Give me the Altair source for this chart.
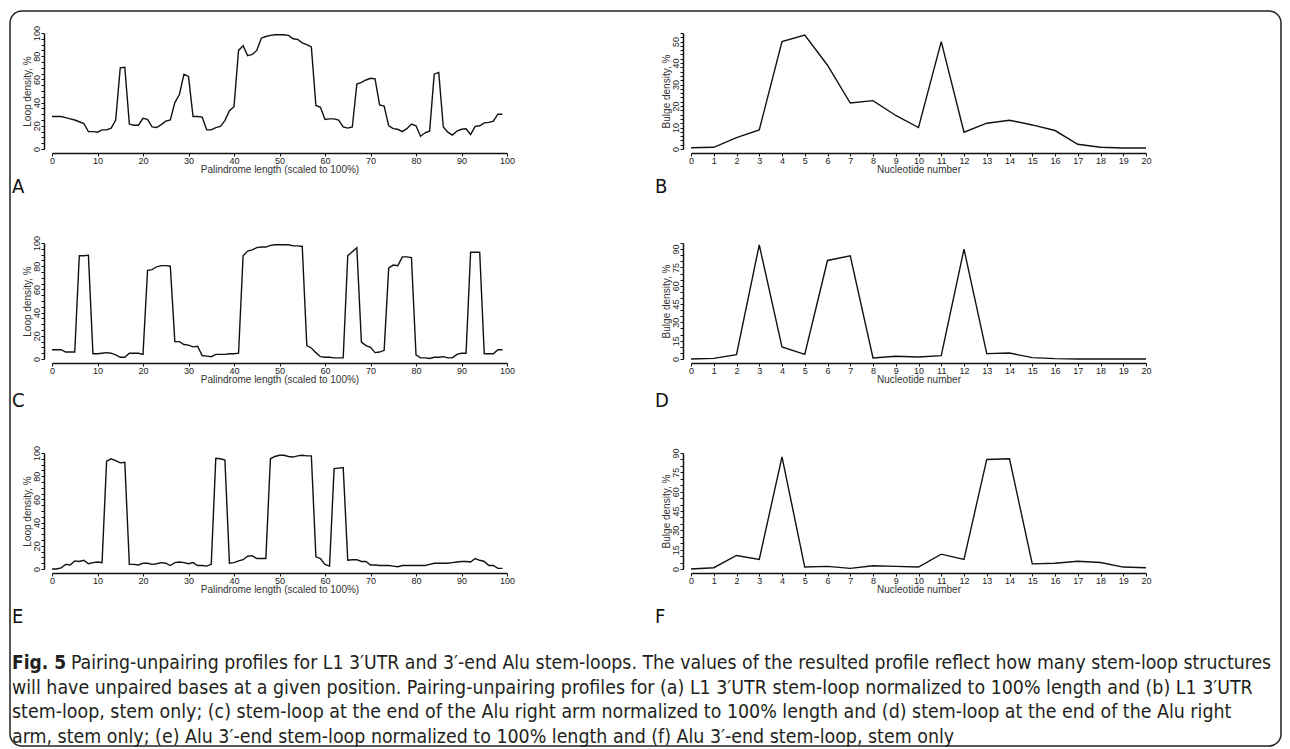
import altair as alt
import pandas as pd

# ---------------- data ----------------
pos100 = list(range(100))
pos20 = list(range(21))

loop_a = [28, 28, 28, 27, 26, 25, 23.5, 22, 15, 15,
          14.5, 16.5, 16.5, 18, 25, 70, 70.5, 21.5, 20.5, 20.5,
          26.5, 25.5, 19, 18.5, 21, 24, 25, 40, 47, 64.5,
          62.5, 28, 28, 27.5, 16.5, 16.5, 18.5, 19.5, 24.5, 33,
          36.5, 85, 89, 80.5, 81.5, 85, 95.5, 97, 98, 98.5,
          98.5, 98.5, 98, 95, 94.5, 91.5, 90, 88, 37.5, 36,
          25.5, 26, 26, 25, 19, 18, 19, 56, 57.5, 59.5,
          61, 60.5, 38, 37, 20, 17.5, 17, 15, 17.5, 21.5,
          20, 11, 14, 15.5, 64.5, 66, 19, 14.5, 12, 15.5,
          17, 17.5, 12.5, 19.5, 20, 22.5, 23, 24, 30, 30]

bulge_b = [0.6, 0.8, 5.3, 8.9, 50, 53, 39, 21.4, 22.5, 15.6, 10,
           50, 7.8, 12, 13.4, 11.2, 8.6, 2.2, 0.8, 0.5, 0.5]

loop_c = [8, 8, 8, 6, 6, 6, 89, 89, 89.5, 4.5,
          4.5, 5, 5.5, 5, 3.5, 1.5, 1.5, 5, 5, 5,
          4, 76.5, 77, 79.5, 80.5, 80.5, 80, 15, 15, 12.5,
          12, 10.5, 11, 3, 2.5, 2, 4, 4, 4, 4.5,
          4.5, 5, 89, 93, 94, 96, 96.5, 96.5, 98, 98.5,
          98.5, 98.5, 98.5, 97.5, 97.5, 97, 11.5, 9.5, 5.5, 2,
          1.5, 1.5, 1, 1, 1, 89, 92.5, 96, 14.5, 11.5,
          10, 5.5, 6, 7.5, 78.5, 81, 80.5, 88, 88, 87.5,
          3.5, 1, 1, 0.5, 1.5, 1.5, 2, 1, 1, 4,
          5, 5, 92, 92, 92, 4.5, 4.5, 4.5, 8, 8]

bulge_d = [0, 0.5, 3.5, 93.5, 9.8, 3.8, 80.7, 84.5, 0.8, 2.2, 1.6,
           2.7, 90, 4.4, 4.9, 1.1, 0.3, 0, 0, 0, 0]

loop_e = [0, 0, 1, 4, 3.5, 7, 6.5, 7.5, 4.5, 5.5,
          6, 5.5, 93, 95, 93.5, 91.5, 92, 4, 4, 3.5,
          5, 5, 4, 4.5, 5.5, 5, 3, 5.5, 6, 5.5,
          4.5, 5.5, 3, 3, 2.5, 4, 95.5, 95, 94, 5,
          5.5, 7, 8, 11, 11.5, 9, 9, 9, 95, 97,
          98, 98, 97, 96.5, 97.5, 98, 97.5, 97.5, 10.5, 9,
          4, 2.5, 86.5, 87, 87.5, 7.5, 8, 8, 6.5, 6.5,
          3.5, 3.5, 3, 3, 3, 2.5, 2, 3, 3, 3,
          3, 3, 3, 4, 5, 5, 5, 5, 5.5, 6,
          6.5, 6.5, 6, 9, 7.5, 6.5, 3, 3, 0.5, 0.5]

bulge_f = [0, 1, 10.5, 7.5, 87, 1.5, 2, 0.5, 2.5, 2, 1.5,
           11.5, 7.5, 85, 85.5, 4, 4.5, 6, 5, 1.5, 1]

panel_letters = ["A", "B", "C", "D", "E", "F"]
x_title_loop = "Palindrome length (scaled to 100%)"
x_title_nuc = "Nucleotide number"
y_title_loop = "Loop density, %"
y_title_bulge = "Bulge density, %"

caption_bold = "Fig. 5"
caption_first = ("Pairing-unpairing profiles for L1 3\u2032UTR and 3\u2032-end Alu stem-loops. "
                 "The values of the resulted profile reflect how many stem-loop structures")
caption_rest = [
    "will have unpaired bases at a given position. Pairing-unpairing profiles for (a) L1 3\u2032UTR "
    "stem-loop normalized to 100% length and (b) L1 3\u2032UTR",
    "stem-loop, stem only; (c) stem-loop at the end of the Alu right arm normalized to 100% length "
    "and (d) stem-loop at the end of the Alu right",
    "arm, stem only; (e) Alu 3\u2032-end stem-loop normalized to 100% length and (f) Alu 3\u2032-end "
    "stem-loop, stem only",
]

AX_FONT = "Liberation Sans"
CAP_FONT = "Liberation Sans Narrow, DejaVu Sans Condensed, Roboto Condensed, Liberation Sans"
W, H = 455, 116


def one(d):
    return alt.Data(values=[d])


def panel(xs, ys, xmax, ymax, ystep, ylabstep, xtitle, ytitle, letter, letter_x, letter_y):
    df = pd.DataFrame({"x": xs, "y": ys})
    xstep = 10 if xmax == 100 else 1
    xvals = list(range(0, xmax + 1, xstep))
    yvals = list(range(0, ymax + 1, ystep))
    line = alt.Chart(df).mark_line(color="#111111", strokeWidth=1.4).encode(
        x=alt.X("x:Q",
                scale=alt.Scale(domain=[0, xmax], nice=False, zero=False),
                axis=alt.Axis(values=xvals, title=xtitle, offset=4, grid=False,
                              tickSize=3, tickWidth=1, tickColor="#111",
                              domainColor="#111", domainWidth=1.5,
                              labelFont=AX_FONT, labelFontSize=9, labelColor="#222",
                              labelPadding=0, labelFlush=False, labelOverlap=False,
                              format="d",
                              titleFont=AX_FONT, titleFontSize=10, titleFontWeight="normal",
                              titleColor="#333", titlePadding=-1)),
        y=alt.Y("y:Q",
                scale=alt.Scale(domain=[0, ymax], nice=False),
                axis=alt.Axis(values=yvals, title=ytitle, offset=8, grid=False,
                              labelExpr=f"datum.value % {ylabstep} == 0 ? datum.label : ''",
                              labelAngle=270, labelAlign="center", labelBaseline="bottom",
                              tickSize=3, tickWidth=1, tickColor="#111",
                              domainColor="#111", domainWidth=1.5,
                              labelFont=AX_FONT, labelFontSize=9, labelColor="#222",
                              labelPadding=0, labelFlush=False, labelOverlap=False,
                              titleFont=AX_FONT, titleFontSize=10, titleFontWeight="normal",
                              titleColor="#333", titlePadding=0)),
    )
    lab = alt.Chart(one({"t": letter})).mark_text(
        font=CAP_FONT, fontSize=20, align="left", baseline="middle", color="#111"
    ).encode(x=alt.value(letter_x), y=alt.value(letter_y), text="t:N")
    return [line, lab]


pa = panel(pos100, loop_a, 100, 100, 5, 20, x_title_loop, y_title_loop, panel_letters[0], -40, 154)
pb = panel(pos20, bulge_b, 20, 54, 2, 10, x_title_nuc, y_title_bulge, panel_letters[1], -36, 154)
pc = panel(pos100, loop_c, 100, 100, 5, 20, x_title_loop, y_title_loop, panel_letters[2], -40, 158)
pd_ = panel(pos20, bulge_d, 20, 95, 5, 15, x_title_nuc, y_title_bulge, panel_letters[3], -36, 158)
pe = panel(pos100, loop_e, 100, 100, 5, 20, x_title_loop, y_title_loop, panel_letters[4], -40, 164)
pf = panel(pos20, bulge_f, 20, 90, 5, 15, x_title_nuc, y_title_bulge, panel_letters[5], -36, 164)

# rounded frame around the whole figure (anchored to panel A)
frame = alt.Chart(one({"k": 1})).mark_rect(
    fill="transparent", stroke="#222222", strokeWidth=1.5, cornerRadius=12
).encode(x=alt.value(-42), y=alt.value(-22), x2=alt.value(1229), y2=alt.value(713))

# caption (anchored to panel E)
cap_bold = alt.Chart(one({"t": caption_bold})).mark_text(
    font=CAP_FONT, fontSize=19, fontWeight="bold", align="left", baseline="middle", color="#231f20"
).encode(x=alt.value(-40), y=alt.value(210), text="t:N")
cap_first = alt.Chart(one({"t": caption_first})).mark_text(
    font=CAP_FONT, fontSize=19.3, align="left", baseline="middle", color="#231f20"
).encode(x=alt.value(19), y=alt.value(210), text="t:N")
cap_rest = alt.Chart(one({"k": 1})).mark_text(
    font=CAP_FONT, fontSize=19.4, align="left", baseline="middle", color="#231f20", lineHeight=24.5
).encode(x=alt.value(-40), y=alt.value(234.5), text=alt.value(caption_rest))

A = alt.layer(frame, *pa).properties(width=W, height=H)
B = alt.layer(*pb).properties(width=W, height=H)
C = alt.layer(*pc).properties(width=W, height=H)
D = alt.layer(*pd_).properties(width=W, height=H)
E = alt.layer(*pe, cap_bold, cap_first, cap_rest).properties(width=W, height=H)
F = alt.layer(*pf).properties(width=W, height=H)

chart = alt.concat(A, B, C, D, E, F, columns=2).properties(
    spacing={"row": 94, "column": 184},
    bounds="flush",
    padding={"left": 1, "top": 2, "right": 0, "bottom": 0},
    background="white",
).configure_view(strokeWidth=0)

chart.save("out.html", embed_options={"renderer": "svg", "actions": False})
